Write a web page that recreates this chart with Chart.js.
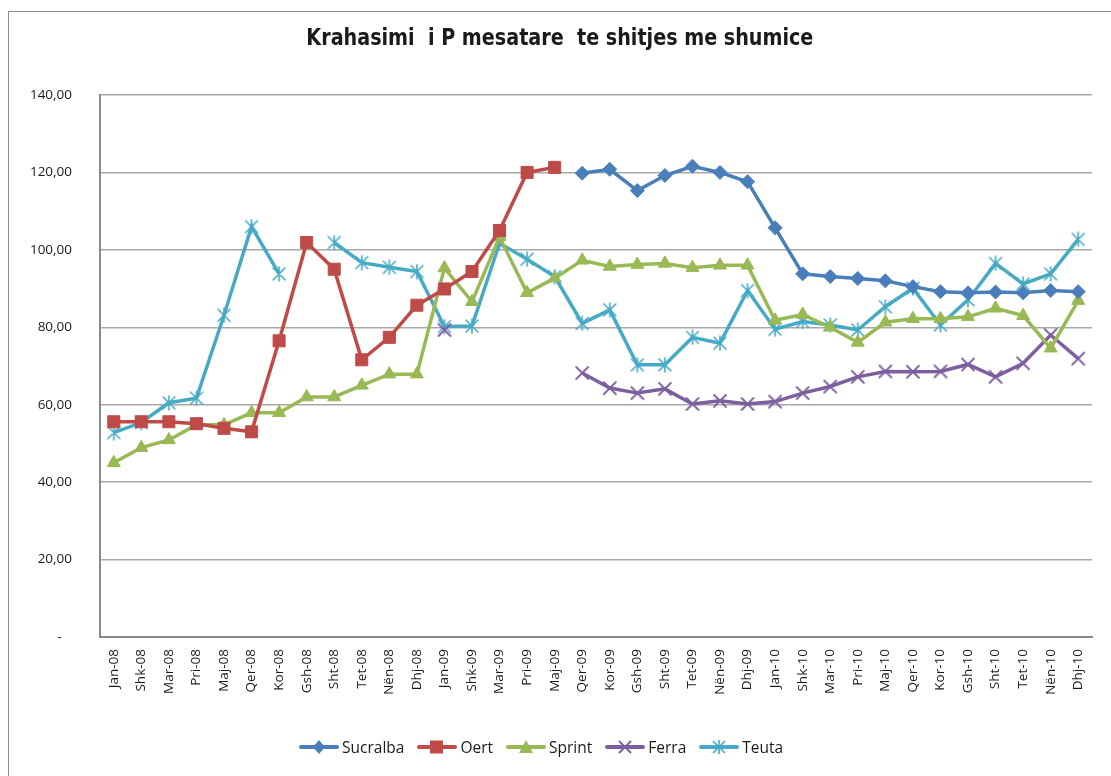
<!DOCTYPE html>
<html>
<head>
<meta charset="utf-8">
<script src="https://cdn.jsdelivr.net/npm/chart.js@4/dist/chart.umd.min.js"></script>
<style>
  html, body { margin:0; padding:0; background:#fff; overflow:hidden; width:1111px; height:776px; }
  #frame { position:absolute; left:8px; top:11px; width:1200px; height:900px; border-left:1.5px solid #8c8c8c; border-top:1.5px solid #8c8c8c; box-sizing:border-box; }
  #wrap { position:absolute; left:0; top:0; width:1111px; height:776px; }
  #title { position:absolute; top:24px; left:0; width:1111px; text-align:center; white-space:pre; font-family:"Liberation Sans Narrow","DejaVu Sans Condensed","Open Sans",sans-serif; font-weight:bold; font-size:23px; color:#1a1a1a; }
  #title span { display:inline-block; transform-origin:center center; }
  #legend { position:absolute; top:736px; left:299px; display:flex; align-items:center; font-family:"Open Sans",sans-serif; font-size:15.5px; color:#1a1a1a; white-space:nowrap; }
  .item { display:flex; align-items:center; margin-right:13px; }
  .item svg { margin-right:3px; }
</style>
</head>
<body>
<div id="frame"></div>
<div id="wrap"><canvas id="c" width="1111" height="776"></canvas></div>
<div id="title"><span id="tt">Krahasimi  i P mesatare  te shitjes me shumice</span></div>
<div id="legend"></div>
<script>
const categories = ["Jan-08","Shk-08","Mar-08","Pri-08","Maj-08","Qer-08","Kor-08","Gsh-08","Sht-08","Tet-08","Nën-08","Dhj-08",
  "Jan-09","Shk-09","Mar-09","Pri-09","Maj-09","Qer-09","Kor-09","Gsh-09","Sht-09","Tet-09","Nën-09","Dhj-09",
  "Jan-10","Shk-10","Mar-10","Pri-10","Maj-10","Qer-10","Kor-10","Gsh-10","Sht-10","Tet-10","Nën-10","Dhj-10"];

const sucralba = [null,null,null,null,null,null,null,null,null,null,null,null,
  null,null,null,null,null,119.8,120.8,115.3,119.2,121.6,120.0,117.6,
  105.7,93.8,93.1,92.6,92.0,90.5,89.2,88.9,89.1,88.9,89.5,89.2];
const oert = [55.6,55.6,55.6,55.1,53.9,53.0,76.5,101.9,95.0,71.6,77.4,85.7,
  89.9,94.4,105.0,120.0,121.3,null,null,null,null,null,null,null,
  null,null,null,null,null,null,null,null,null,null,null,null];
const sprint = [45.0,48.9,50.9,54.8,54.8,57.9,57.9,62.0,62.0,65.0,67.9,67.9,
  95.3,86.6,103.3,88.9,92.7,97.3,95.7,96.2,96.5,95.4,96.0,96.0,
  81.8,83.3,80.0,76.1,81.3,82.2,82.2,82.7,84.9,83.0,74.6,86.9];
const ferra = [null,null,null,null,null,null,null,null,null,null,null,null,
  79.3,null,null,null,null,68.2,64.3,63.0,64.1,60.2,61.0,60.2,
  60.8,63.0,64.7,67.2,68.6,68.5,68.6,70.4,67.2,70.7,78.0,71.9];
const teuta = [52.8,55.4,60.5,61.7,83.1,106.0,93.8,null,101.9,96.7,95.5,94.4,
  80.2,80.3,101.7,97.6,93.1,81.0,84.5,70.3,70.3,77.4,75.9,89.5,
  79.5,81.5,80.6,79.3,85.3,90.1,80.6,87.1,96.5,91.2,93.8,102.7];

const yTicks = [0,20,40,60,80,100,120,140];
const seriesNames = ["Sucralba","Oert","Sprint","Ferra","Teuta"];

const colors = { Sucralba:"#4a7ebb", Oert:"#be4b48", Sprint:"#98b954", Ferra:"#7d5fa0", Teuta:"#46aac5" };

function starCanvas(color) {
  const cv = document.createElement('canvas');
  cv.width = 16; cv.height = 16;
  const g = cv.getContext('2d');
  g.strokeStyle = color; g.lineWidth = 1.6; g.lineCap = 'round';
  g.beginPath();
  g.moveTo(2,2); g.lineTo(14,14);
  g.moveTo(14,2); g.lineTo(2,14);
  g.moveTo(8,1); g.lineTo(8,15);
  g.stroke();
  return cv;
}
function xCanvas(color) {
  const cv = document.createElement('canvas');
  cv.width = 16; cv.height = 16;
  const g = cv.getContext('2d');
  g.strokeStyle = color; g.lineWidth = 1.8; g.lineCap = 'round';
  g.beginPath();
  g.moveTo(2,2); g.lineTo(14,14);
  g.moveTo(14,2); g.lineTo(2,14);
  g.stroke();
  return cv;
}

function ds(label, data, pointStyle, radius) {
  return {
    label, data,
    borderColor: colors[label], backgroundColor: colors[label],
    borderWidth: 3.5, pointStyle, pointRadius: radius, pointHoverRadius: radius,
    pointBorderWidth: 1, pointBorderColor: colors[label], pointBackgroundColor: colors[label],
    tension: 0, spanGaps: false, fill: false
  };
}

Chart.defaults.font.family = '"Open Sans", sans-serif';

new Chart(document.getElementById('c'), {
  type: 'line',
  data: {
    labels: categories,
    datasets: [
      ds("Sucralba", sucralba, 'rectRot', 7),
      ds("Oert", oert, 'rect', 8.5),
      ds("Sprint", sprint, 'triangle', 7.5),
      ds("Ferra", ferra, xCanvas(colors.Ferra), 8),
      ds("Teuta", teuta, starCanvas(colors.Teuta), 8)
    ]
  },
  options: {
    responsive: false,
    devicePixelRatio: 1,
    animation: false,
    layout: { padding: { top: 95, left: 0, right: 19, bottom: 0 } },
    plugins: { legend: { display: false }, title: { display: false }, tooltip: { enabled: false } },
    scales: {
      x: {
        offset: true,
        grid: { display: false, drawTicks: false },
        border: { display: true, color: '#8a8a8a', width: 2 },
        ticks: { autoSkip: false, minRotation: 90, maxRotation: 90, padding: 12, color: '#1a1a1a', font: { size: 13.5 } },
        afterFit: (s) => { s.height = 139; }
      },
      y: {
        min: 0, max: 140,
        afterBuildTicks: (s) => { s.ticks = yTicks.map(v => ({ value: v })); },
        grid: { color: '#a8a8a8', lineWidth: 1.5, drawTicks: false },
        border: { display: true, color: '#8a8a8a', width: 2 },
        ticks: {
          padding: 28, color: '#1a1a1a', font: { size: 13.5 },
          callback: (v) => v === 0 ? '-   ' : v.toFixed(2).replace('.', ',')
        },
        afterFit: (s) => { s.width = 100; }
      }
    }
  }
});

(function () {
  const tt = document.getElementById('tt');
  const w = tt.getBoundingClientRect().width;
  if (w > 0) tt.style.transform = 'scaleX(' + (507 / w) + ')';
  document.getElementById('title').style.left = '4px';
})();

(function () {
  const lg = document.getElementById('legend');
  const svgMarker = {
    Sucralba: c => `<polygon points="20,1 26,8 20,15 14,8" fill="${c}"/>`,
    Oert: c => `<rect x="13" y="1.5" width="13" height="13" fill="${c}"/>`,
    Sprint: c => `<polygon points="20,1 27,14 13,14" fill="${c}"/>`,
    Ferra: c => `<path d="M14,2 L26,14 M26,2 L14,14" stroke="${c}" stroke-width="1.8"/>`,
    Teuta: c => `<path d="M14,2 L26,14 M26,2 L14,14 M20,1 L20,15" stroke="${c}" stroke-width="1.6"/>`
  };
  seriesNames.forEach(n => {
    const c = colors[n];
    const d = document.createElement('div');
    d.className = 'item';
    d.innerHTML = `<svg width="40" height="16" viewBox="0 0 40 16"><line x1="2" y1="8" x2="38" y2="8" stroke="${c}" stroke-width="4" stroke-linecap="round"/>${svgMarker[n](c)}</svg><span>${n}</span>`;
    lg.appendChild(d);
  });
})();
</script>
</body>
</html>
